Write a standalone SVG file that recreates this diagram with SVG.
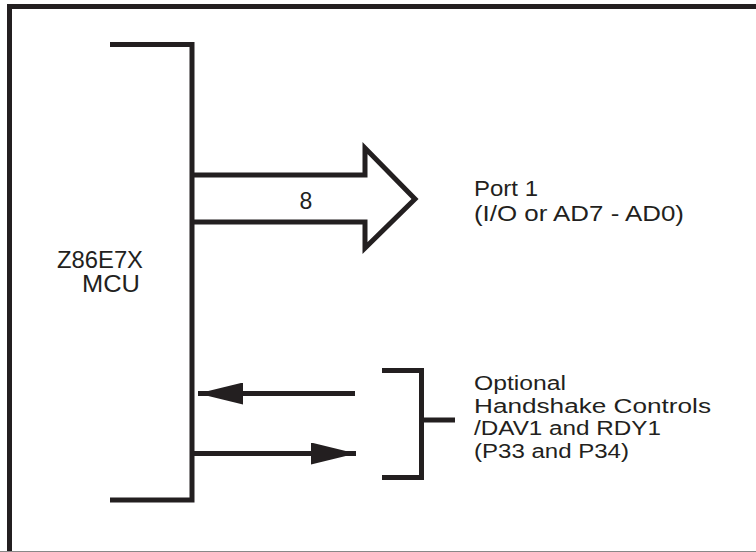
<svg xmlns="http://www.w3.org/2000/svg" width="756" height="552" viewBox="0 0 756 552">
<style>
.ln{fill:none;stroke:#231f20;stroke-width:5;stroke-linecap:butt;stroke-linejoin:miter}
.t{font-family:"Liberation Sans",Arial,Helvetica,sans-serif;fill:#231f20;font-size:23px}
.p{font-size:22px}
.h{font-size:20px}
</style>
<defs>
<marker id="ah" viewBox="0 0 45 22" refX="45" refY="11" markerWidth="45" markerHeight="22" markerUnits="userSpaceOnUse" orient="auto">
<path d="M0,0 L45,11 L0,22 Z" fill="#231f20"/>
</marker>
</defs>
<rect width="756" height="552" fill="#fff"/>
<g id="frame">
<path d="M9.5,552 V6.5 H760" fill="none" stroke="#231f20" stroke-width="5"/>
<line x1="0" y1="551.5" x2="756" y2="551.5" stroke="#888" stroke-width="1"/>
</g>
<g id="mcu">
<path class="ln" d="M110,44.5 H192 V500 H110"/>
<text class="t" x="100" y="268" text-anchor="middle" textLength="86" lengthAdjust="spacingAndGlyphs">Z86E7X</text>
<text class="t" x="111" y="292" text-anchor="middle" textLength="58" lengthAdjust="spacingAndGlyphs">MCU</text>
</g>
<g id="connectors">
<path class="ln" d="M192,175 H365 V148 L415,199 L365,248 V222 H192"/>
<text class="t" x="306" y="209" text-anchor="middle">8</text>
<line class="ln" x1="355" y1="393.5" x2="198" y2="393.5" marker-end="url(#ah)"/>
<line class="ln" x1="192" y1="453.5" x2="356" y2="453.5" marker-end="url(#ah)"/>
</g>
<g id="port1">
<text class="t p" x="474" y="196" textLength="64" lengthAdjust="spacingAndGlyphs">Port 1</text>
<text class="t p" x="474" y="221" textLength="210" lengthAdjust="spacingAndGlyphs">(I/O or AD7 - AD0)</text>
</g>
<g id="handshake">
<path class="ln" d="M382,370.5 H421.5 V477.5 H382 M421.5,420 H455"/>
<text class="t h" x="474" y="390" textLength="92" lengthAdjust="spacingAndGlyphs">Optional</text>
<text class="t h" x="474" y="412.5" textLength="237" lengthAdjust="spacingAndGlyphs">Handshake Controls</text>
<text class="t h" x="474" y="435" textLength="187" lengthAdjust="spacingAndGlyphs">/DAV1 and RDY1</text>
<text class="t h" x="474" y="457.5" textLength="155" lengthAdjust="spacingAndGlyphs">(P33 and P34)</text>
</g>
</svg>
